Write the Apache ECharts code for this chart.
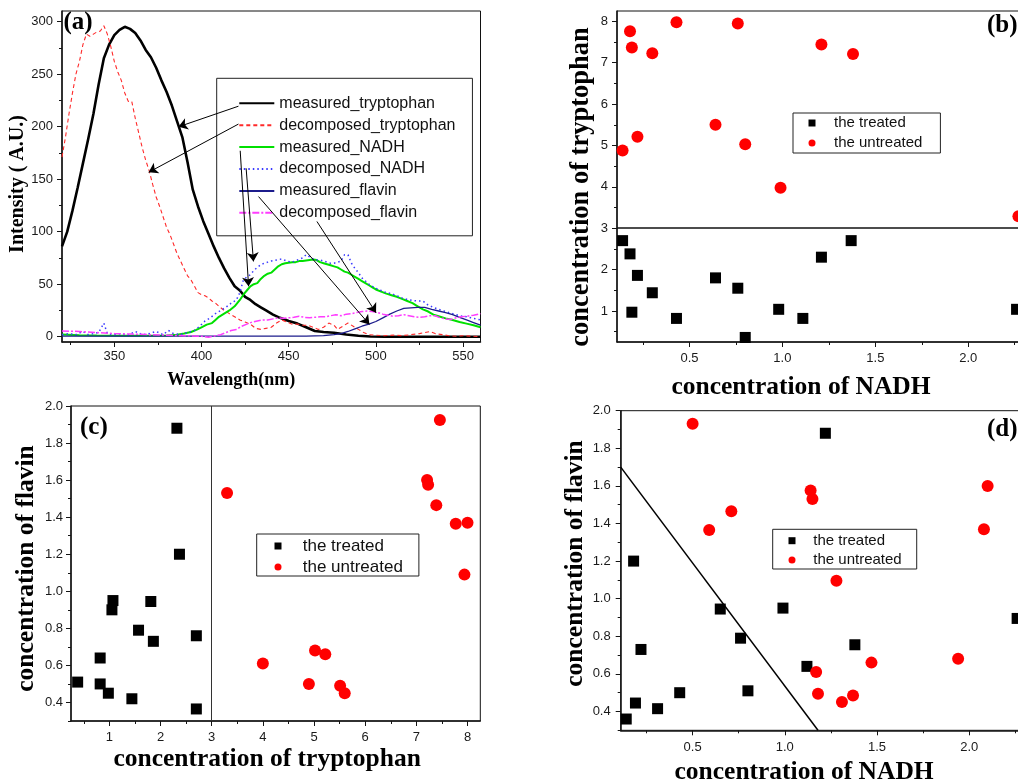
<!DOCTYPE html>
<html>
<head>
<meta charset="utf-8">
<title>Fluorescence decomposition and concentration scatter</title>
<script src="https://cdn.jsdelivr.net/npm/echarts@6/dist/echarts.min.js"></script>
<style>
  html, body { margin: 0; padding: 0; background: #fff; overflow: hidden; }
  #chart { width: 1060px; height: 782px; }
</style>
</head>
<body>
<div id="chart"></div>
<script>
// ---------- panel (a): emission spectra, [wavelength nm, intensity] ----------
const measuredTryptophan = [[320,86],[323,100],[326,120],[329,142],[332,165],[335,188],[338,212],[341,240],[344,265],[347,278],[350,287],[353,292],[356,295],[359,293],[362,289],[365,282],[368,273],[371,266],[374,256],[377,244],[380,233],[383,220],[386,205],[389,190],[392,166],[395,140],[398,124],[401,110],[404,98],[407,86],[410,75],[413,65],[416,56],[419,48],[422,44],[425,38],[428,35],[431,31],[434,28],[437,25],[441,21],[445,18],[450,15],[455,12.5],[460,9],[465,5.5],[470,4.5],[476,3.8],[483,2.2],[490,1],[497,0.3],[505,0],[530,0],[560,0]];
const decomposedTryptophan = [[320,171],[322,190],[324,212],[326,232],[328,250],[330,262],[332,278],[334,288],[336,286],[338,288],[340,290],[342,291],[344,296],[346,288],[348,276],[350,262],[352,252],[354,244],[356,232],[358,224],[360,224],[362,208],[364,194],[366,180],[368,168],[370,158],[372,145],[374,133],[376,124],[378,114],[380,104],[382,97],[384,88],[386,79],[388,72],[390,65],[392,58],[394,54],[396,48],[398,42],[400,40],[402,39],[404,37],[406,34],[408,32],[410,29],[413,25],[416,22],[419,19],[422,16],[425,14],[428,12],[431,8],[434,7],[437,8],[440,9],[443,13],[446,16],[449,14],[452,12],[455,12],[458,11],[461,11],[464,9],[467,7],[470,9],[473,13],[476,11],[478,7],[481,10],[484,13],[487,10],[490,7],[493,4],[496,2],[500,1.5],[505,1],[510,1.5],[515,1],[520,2],[525,3],[528,4],[531,5],[534,3],[538,2],[542,1],[546,0.5],[550,1],[555,0.5],[560,0]];
const measuredNADH = [[320,2.2],[330,1.5],[340,1.2],[350,1],[360,1],[370,1],[380,1.2],[386,2],[390,3],[394,4.5],[397,6.5],[400,9],[403,11.5],[406,13],[408,16],[410,19],[413,22],[416,25],[419,29],[422,35],[424,40],[426,44],[428,48],[430,50],[432,51],[434,55],[436,58],[438,60],[440,61],[442,64],[444,67],[446,69],[448,70],[450,70.5],[452,71],[454,71],[456,72],[458,72],[460,72.5],[462,73],[464,73.5],[466,73],[468,71],[470,70],[472,69],[474,68],[476,67],[478,66],[480,64],[482,62],[484,61],[486,59],[488,57],[490,55],[492,53],[494,51],[496,49],[498,47],[500,45],[503,43],[506,41],[509,39.5],[512,38],[515,36],[518,34],[521,32],[524,29],[527,26],[530,24],[533,21],[536,19.5],[540,17.5],[544,16],[548,14],[552,12.5],[556,11],[560,9]];
const decomposedNADH = [[320,2],[324,3],[328,2],[332,5],[335,2],[338,3],[341,4],[344,13],[346,3],[350,2],[354,3],[358,1.5],[362,5],[366,2],[370,3],[374,5],[378,2],[381,6],[384,3],[388,2],[392,4],[396,6],[399,10],[402,15],[405,18],[408,22],[411,25],[414,28],[417,32],[420,35],[422,42],[424,54],[426,57],[428,59],[430,63],[432,66],[434,68.5],[436,70],[438,71],[440,72],[443,73],[446,74],[449,72],[452,71],[455,73],[458,75],[460,78],[462,76],[464,74],[466,73],[468,73],[470,72],[472,71],[474,70],[476,70],[478,71],[480,72],[482,78],[484,78],[486,70],[488,65],[490,61],[492,56],[494,53],[496,50],[498,48],[500,46],[503,44],[506,42],[509,41],[512,39],[515,37],[518,35.5],[521,34.5],[524,34],[527,34],[530,30],[533,28],[536,26],[540,24],[544,22],[548,20],[552,19],[556,17.5],[560,16]];
const measuredFlavin = [[320,0.5],[360,0.5],[400,0.5],[440,0.5],[460,0.6],[470,1],[476,2],[480,3],[484,5],[488,7.5],[492,10],[496,12],[500,14.5],[504,18],[508,21.5],[512,24.5],[516,27],[520,27.5],[524,28],[528,28],[532,26],[536,24.5],[540,23],[544,21],[548,18.5],[552,16],[556,13.5],[560,11]];
const decomposedFlavin = [[320,5.5],[330,5],[340,4],[350,3],[360,2.5],[370,2],[380,1.5],[390,1],[400,0.5],[404,-0.5],[408,1],[411,2],[414,4],[417,6],[420,7],[423,10],[426,12],[429,14],[432,15],[435,16],[438,16],[441,17],[444,18],[447,17.5],[450,18],[453,18.5],[456,19.5],[459,18.5],[462,18],[465,18.5],[468,19],[471,19],[474,20],[477,21],[480,20],[483,21.5],[486,22],[489,23],[492,24],[495,24.5],[498,24],[501,23],[504,21.5],[507,20.5],[510,19.5],[513,20],[516,21],[519,20],[522,19],[525,18.5],[528,19],[531,20],[534,20],[537,18],[540,17],[543,16.5],[546,18],[549,19],[552,19.5],[556,20.5],[560,22]];
// leader arrows from legend entries to curves: [from, to] in [nm, intensity]
const legendPointers = [
  [[421.2,219.4],[386.8,199.8]],
  [[421.2,202.4],[369.7,156.5]],
  [[422.2,177.0],[427.0,48.0]],
  [[425.6,160.3],[429.8,71.7]],
  [[432.7,133.4],[496.3,11.7]],
  [[466.2,109.7],[500.1,22.8]]
];

// ---------- panel (b): [NADH, tryptophan] ----------
const treatedNadhTrp = [[0.14,2.70],[0.18,2.38],[0.22,1.86],[0.19,0.97],[0.30,1.44],[0.43,0.82],[0.64,1.80],[0.76,1.55],[0.80,0.36],[0.98,1.04],[1.11,0.82],[1.21,2.30],[1.37,2.70],[2.26,1.04]];
const untreatedNadhTrp = [[0.14,4.88],[0.18,7.76],[0.19,7.37],[0.22,5.21],[0.30,7.23],[0.43,7.98],[0.64,5.50],[0.76,7.95],[0.80,5.03],[0.99,3.98],[1.21,7.44],[1.38,7.21],[2.27,3.29]];
const tryptophanCut = 3;

// ---------- panel (c): [tryptophan, flavin] ----------
const treatedTrpFlavin = [[0.38,0.51],[0.82,0.64],[0.82,0.50],[0.98,0.45],[1.05,0.90],[1.07,0.95],[1.44,0.42],[1.57,0.79],[1.81,0.945],[1.86,0.73],[2.32,1.88],[2.37,1.20],[2.70,0.76],[2.70,0.365]];
const untreatedTrpFlavin = [[3.30,1.53],[4.00,0.61],[4.90,0.50],[5.02,0.68],[5.22,0.66],[5.51,0.49],[5.60,0.45],[7.21,1.60],[7.23,1.575],[7.39,1.465],[7.46,1.925],[7.77,1.365],[8.00,1.37],[7.94,1.09]];

// ---------- panel (d): [NADH, flavin] ----------
const treatedNadhFlavin = [[0.14,0.36],[0.19,0.445],[0.18,1.20],[0.22,0.73],[0.31,0.415],[0.43,0.50],[0.65,0.945],[0.76,0.79],[0.80,0.51],[0.99,0.95],[1.12,0.64],[1.22,1.88],[1.38,0.755],[2.26,0.895]];
const untreatedNadhFlavin = [[0.50,1.93],[0.59,1.365],[0.71,1.465],[1.14,1.575],[1.15,1.53],[1.17,0.61],[1.18,0.495],[1.28,1.095],[1.31,0.45],[1.37,0.485],[1.47,0.66],[1.94,0.68],[2.08,1.37],[2.10,1.60]];
const flavinNadhBoundary = [[0.11,1.70],[1.18,0.30]];

// ---------- tick positions ----------
const wavelengthTicks = [350,400,450,500,550];
const wavelengthMinor = [325,375,425,475,525];
const intensityTicks = [0,50,100,150,200,250,300];
const intensityMinor = [25,75,125,175,225,275];
const nadhTicks = [0.5,1.0,1.5,2.0];
const nadhMinor = [0.25,0.75,1.25,1.75,2.25];
const trpTicks = [1,2,3,4,5,6,7,8];
const trpMinor = [0.5,1.5,2.5,3.5,4.5,5.5,6.5,7.5];
const flavinTicks = [0.4,0.6,0.8,1.0,1.2,1.4,1.6,1.8,2.0];
const flavinMinor = [0.3,0.5,0.7,0.9,1.1,1.3,1.5,1.7,1.9];

const SANS = 'Liberation Sans';
const SERIF = 'Liberation Serif';
const INK = '#141414';

// main axis (line, labels, major ticks) plus an overlay carrying the minor ticks
function axisPair(dir, gridIndex, min, max, major, minor, fmt, margin, title) {
  const pos = dir === 'x' ? 'bottom' : 'left';
  const main = {
    type: 'value', gridIndex, position: pos, min, max,
    axisLine: { show: true, onZero: false, lineStyle: { color: INK, width: 1.5 } },
    axisTick: { show: true, length: 5, customValues: major, lineStyle: { color: INK, width: 1 } },
    axisLabel: { show: true, customValues: major, formatter: fmt, margin,
                 fontFamily: SANS, fontSize: 13, color: '#1a1a1a' },
    splitLine: { show: false },
    name: title.text, nameLocation: 'middle', nameGap: title.gap,
    nameTextStyle: { fontFamily: SERIF, fontWeight: 'bold', fontSize: title.size,
                     color: '#000', padding: title.pad || 0 }
  };
  if (dir === 'y') main.nameRotate = 90;
  const sub = {
    type: 'value', gridIndex, position: pos, min, max,
    axisLine: { show: false, onZero: false },
    axisTick: { show: true, length: 3, customValues: minor, lineStyle: { color: INK, width: 1 } },
    axisLabel: { show: false },
    splitLine: { show: false }
  };
  return [main, sub];
}

const intFmt = v => String(Math.round(v));
const oneDec = v => v.toFixed(1);

const xAxes = [
  ...axisPair('x', 0, 320, 560, wavelengthTicks, wavelengthMinor, intFmt, 8,
    { text: 'Wavelength(nm)', gap: 29, size: 18, pad: [0, 80, 0, 0] }),
  ...axisPair('x', 1, 0.11, 2.30, nadhTicks, nadhMinor, oneDec, 10,
    { text: 'concentration of NADH', gap: 32, size: 25.5, pad: [0, 39, 0, 0] }),
  ...axisPair('x', 2, 0.25, 8.25, trpTicks, trpMinor, intFmt, 10,
    { text: 'concentration of tryptophan', gap: 25.5, size: 25.5, pad: [0, 17, 0, 0] }),
  ...axisPair('x', 3, 0.11, 2.30, nadhTicks, nadhMinor, oneDec, 11,
    { text: 'concentration of NADH', gap: 29, size: 25.5, pad: [0, 37, 0, 0] })
];
const yAxes = [
  ...axisPair('y', 0, -5, 310, intensityTicks, intensityMinor, intFmt, 9,
    { text: 'Intensity ( A.U.)', gap: 26, size: 20, pad: [0, 15, 0, 0] }),
  ...axisPair('y', 1, 0.25, 8.25, trpTicks, trpMinor, intFmt, 9,
    { text: 'concentration of tryptophan', gap: 22.5, size: 26.5, pad: [0, 21, 0, 0] }),
  ...axisPair('y', 2, 0.3, 2.0, flavinTicks, flavinMinor, oneDec, 8,
    { text: 'concentration of flavin', gap: 32, size: 25.5, pad: [0, 10, 0, 0] }),
  ...axisPair('y', 3, 0.3, 2.0, flavinTicks, flavinMinor, oneDec, 10,
    { text: 'concentration of flavin', gap: 25, size: 25.5, pad: [0, 0, 0, 14] })
];

function spectrum(name, data, color, width, type) {
  return {
    name, type: 'line', xAxisIndex: 0, yAxisIndex: 0, data,
    symbol: 'none', smooth: false, silent: true,
    lineStyle: { color, width, type }, itemStyle: { color }
  };
}

function scatter(name, grid, data, isTreated, extra) {
  return Object.assign({
    name, type: 'scatter', xAxisIndex: grid * 2, yAxisIndex: grid * 2, data,
    symbol: isTreated ? 'rect' : 'circle',
    symbolSize: isTreated ? 11 : 12,
    itemStyle: { color: isTreated ? '#000000' : '#ff0000', opacity: 1 },
    silent: true
  }, extra || {});
}

const trpSeries = spectrum('measured_tryptophan', measuredTryptophan, '#000000', 2.6, 'solid');
trpSeries.markLine = {
  silent: true, symbol: ['none', 'arrow'], symbolSize: 9,
  label: { show: false },
  lineStyle: { color: '#000', width: 1, type: 'solid' },
  itemStyle: { color: '#000' },
  data: legendPointers.map(p => [{ coord: p[0] }, { coord: p[1] }])
};

const series = [
  trpSeries,
  spectrum('decomposed_tryptophan', decomposedTryptophan, '#ff2a2a', 1.1, [4, 3]),
  spectrum('measured_NADH', measuredNADH, '#00e000', 2, 'solid'),
  spectrum('decomposed_NADH', decomposedNADH, '#3a3aff', 1.5, [1.5, 3]),
  spectrum('measured_flavin', measuredFlavin, '#1c1c8c', 1.3, 'solid'),
  spectrum('decomposed_flavin', decomposedFlavin, '#ff3cff', 1.5, [7, 2, 2, 2]),

  scatter('the treated', 1, treatedNadhTrp, true, {
    markLine: { silent: true, symbol: 'none', label: { show: false },
      lineStyle: { color: '#111', width: 1.5, type: 'solid' },
      data: [{ yAxis: tryptophanCut }] }
  }),
  scatter('the untreated', 1, untreatedNadhTrp, false),

  scatter('the treated', 2, treatedTrpFlavin, true, {
    markLine: { silent: true, symbol: 'none', label: { show: false },
      lineStyle: { color: '#333', width: 1, type: 'solid' },
      data: [{ xAxis: tryptophanCut }] }
  }),
  scatter('the untreated', 2, untreatedTrpFlavin, false),

  scatter('the treated', 3, treatedNadhFlavin, true),
  scatter('the untreated', 3, untreatedNadhFlavin, false),
  {
    name: 'boundary', type: 'line', xAxisIndex: 6, yAxisIndex: 6,
    data: flavinNadhBoundary, symbol: 'none', silent: true,
    lineStyle: { color: '#000', width: 1.5 }
  }
];

function groupLegend(left, top, fontSize, pad, textPad, lineH, gap) {
  return {
    orient: 'vertical', left, top, padding: pad, itemGap: gap,
    itemWidth: 7, itemHeight: 7, selectedMode: false,
    borderColor: '#222', borderWidth: 1,
    itemStyle: { opacity: 1 },
    textStyle: { fontFamily: SANS, fontSize, color: '#111', lineHeight: lineH, padding: [0, 0, 0, textPad] },
    data: [{ name: 'the treated', icon: 'rect' }, { name: 'the untreated', icon: 'circle' }]
  };
}

// fixed plot rectangles; axis names may run past the canvas edge
const gridBase = { show: true, borderColor: '#111', borderWidth: 1, containLabel: false, outerBoundsMode: 'none' };

const option = {
  animation: false,
  backgroundColor: '#ffffff',
  grid: [
    Object.assign({ left: 62, top: 11, width: 418.5, height: 331 }, gridBase),
    Object.assign({ left: 617, top: 11, width: 407, height: 331 }, gridBase),
    Object.assign({ left: 71, top: 406, width: 409.3, height: 315 }, gridBase),
    Object.assign({ left: 620.7, top: 410.7, width: 403.8, height: 319.6 }, gridBase)
  ],
  xAxis: xAxes,
  yAxis: yAxes,
  legend: [
    {
      orient: 'vertical', left: 216.7, top: 78.3, padding: [16, 17, 14, 21.6],
      itemWidth: 35, itemHeight: 14, itemGap: 3.9, selectedMode: false,
      borderColor: '#222', borderWidth: 1,
      itemStyle: { opacity: 0 },
      textStyle: { fontFamily: SANS, fontSize: 16, color: '#111', lineHeight: 18 },
      data: ['measured_tryptophan', 'decomposed_tryptophan', 'measured_NADH',
             'decomposed_NADH', 'measured_flavin', 'decomposed_flavin']
    },
    groupLegend(793, 113, 15, [2, 18, 2, 15.5], 13.5, 16, 4),
    groupLegend(256.7, 534, 17, [3, 16, 0, 17.8], 16.2, 18, 3),
    groupLegend(772.7, 529.3, 15, [3.4, 15, 1, 15.8], 12.8, 16, 3.3)
  ],
  graphic: {
    elements: [
      { type: 'text', silent: true, style: { text: '(a)', x: 78, y: 23, font: 'bold 25px "Liberation Serif"', fill: '#000', textAlign: 'center', textVerticalAlign: 'middle' } },
      { type: 'text', silent: true, style: { text: '(b)', x: 987, y: 26, font: 'bold 25px "Liberation Serif"', fill: '#000', textAlign: 'left', textVerticalAlign: 'middle' } },
      { type: 'text', silent: true, style: { text: '(c)', x: 80, y: 428, font: 'bold 25px "Liberation Serif"', fill: '#000', textAlign: 'left', textVerticalAlign: 'middle' } },
      { type: 'text', silent: true, style: { text: '(d)', x: 987, y: 430, font: 'bold 25px "Liberation Serif"', fill: '#000', textAlign: 'left', textVerticalAlign: 'middle' } }
    ]
  },
  series
};

const chart = echarts.init(document.getElementById('chart'), null, { renderer: 'canvas' });
chart.setOption(option);
</script>
</body>
</html>
